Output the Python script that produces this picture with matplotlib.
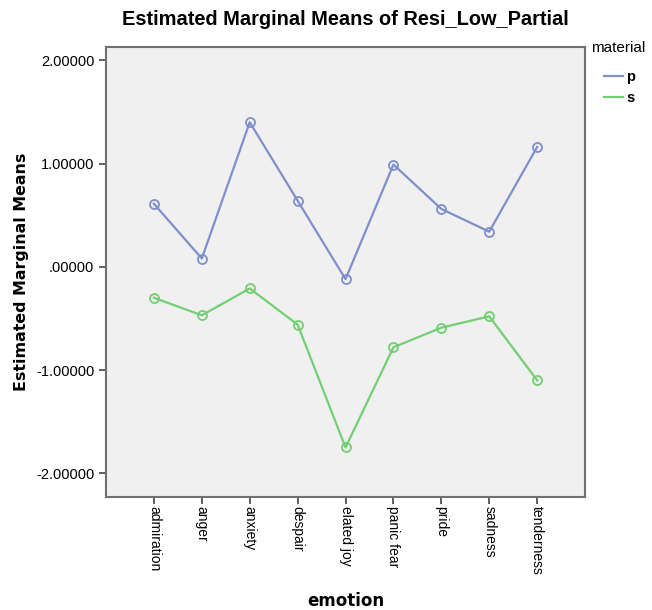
import matplotlib
matplotlib.use("Agg")
import matplotlib.pyplot as plt
from matplotlib.lines import Line2D

emotions = ['admiration', 'anger', 'anxiety', 'despair', 'elated joy',
            'panic fear', 'pride', 'sadness', 'tenderness']
material_p = [0.61, 0.08, 1.40, 0.64, -0.12, 0.99, 0.56, 0.34, 1.16]
material_s = [-0.30, -0.47, -0.21, -0.56, -1.75, -0.78, -0.59, -0.48, -1.10]
y_ticks = [2.0, 1.0, 0.0, -1.0, -2.0]
y_tick_labels = ['2.00000', '1.00000', '.00000', '-1.00000', '-2.00000']

blue = '#7f8fcc'
green = '#72cf72'

plt.rcParams['font.family'] = ['Liberation Sans', 'DejaVu Sans']

fig = plt.figure(figsize=(6.52, 6.10), dpi=100)
ax = fig.add_axes([0.1626, 0.1852, 0.7347, 0.738])
ax.set_facecolor('#f0f0f0')

x = list(range(1, len(emotions) + 1))
ax.plot(x, material_p, color=blue, lw=1.6, marker='o', ms=6.5,
        mfc='none', mec=blue, mew=1.3)
ax.plot(x, material_s, color=green, lw=1.6, marker='o', ms=6.5,
        mfc='none', mec=green, mew=1.3)

ax.set_xlim(0, 10)
ax.set_ylim(-2.23, 2.13)
ax.set_xticks(x)
ax.set_xticklabels(emotions, rotation=-90, fontsize=10)
ax.set_yticks(y_ticks)
ax.set_yticklabels(y_tick_labels, fontsize=10.5)
ax.tick_params(direction='out', length=5, width=1.2, color='#444444')
ax.tick_params(axis='x', pad=1.5)
for s in ax.spines.values():
    s.set_color('#707070')
    s.set_linewidth(1.5)

ax.set_xlabel('emotion', fontsize=12, fontweight='bold',
              family='DejaVu Sans', labelpad=12)
ax.set_ylabel('Estimated Marginal Means', fontsize=11.4, fontweight='bold',
              family='DejaVu Sans', labelpad=5)
fig.text(0.529, 0.968, 'Estimated Marginal Means of Resi_Low_Partial',
         ha='center', va='center', fontsize=14.4, fontweight='bold')

# legend: title on its own, entries indented below it
fig.text(0.907, 0.921, 'material', ha='left', va='center', fontsize=11)
handles = [Line2D([0], [0], color=blue, lw=1.6),
           Line2D([0], [0], color=green, lw=1.6)]
fig.legend(handles, ['p', 's'], loc='upper left',
           bbox_to_anchor=(0.927, 0.885),
           frameon=False, handlelength=1.3, handletextpad=0.2,
           borderpad=0, borderaxespad=0,
           prop={'weight': 'bold', 'size': 10.5}, labelspacing=0.5)

fig.savefig('out.png', dpi=100)
